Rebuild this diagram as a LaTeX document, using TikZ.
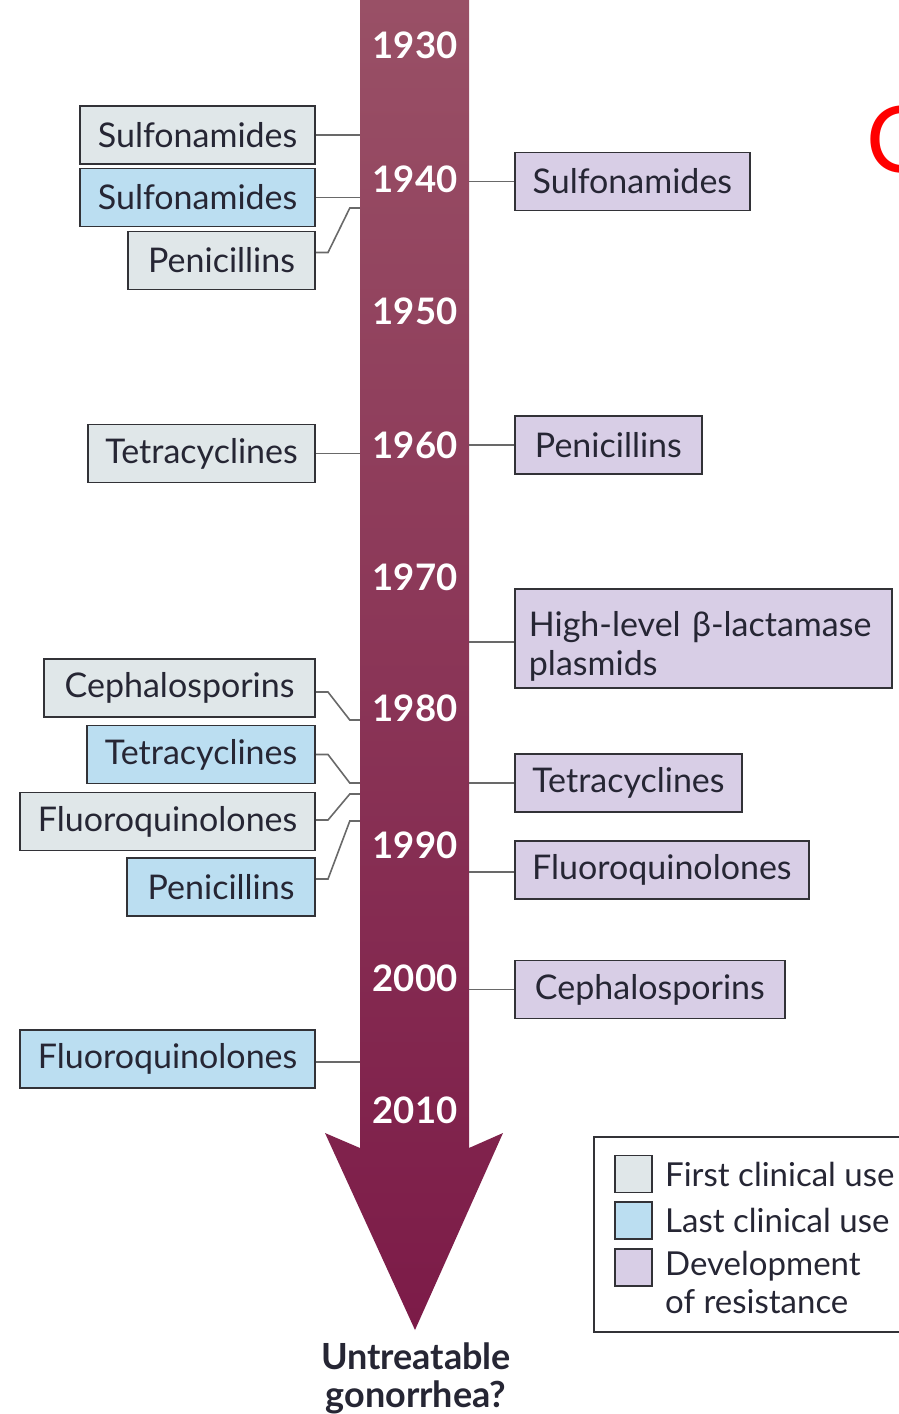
\documentclass[tikz,border=0pt]{standalone}
\usepackage{fontspec}
\setmainfont{Lato}
\usetikzlibrary{positioning}

\definecolor{firstfill}{RGB}{224,231,233}
\definecolor{lastfill}{RGB}{187,222,241}
\definecolor{resfill}{RGB}{216,206,230}
\definecolor{boxline}{RGB}{50,50,55}
\definecolor{conline}{RGB}{105,105,105}
\definecolor{txtdark}{RGB}{38,38,52}
\definecolor{arrtop}{RGB}{153,80,102}
\definecolor{arrbot}{RGB}{124,27,72}

\begin{document}
\begin{tikzpicture}[
  x=1pt, y=-1pt,
  box/.style={draw=boxline, line width=1.8pt, minimum height=58pt,
    inner xsep=14pt, inner ysep=0pt, text=txtdark,
    font=\fontsize{34}{39}\selectfont},
  firstuse/.style={box, fill=firstfill},
  lastuse/.style={box, fill=lastfill},
  resist/.style={box, fill=resfill},
  year/.style={text=white, font=\fontsize{36.5}{42}\selectfont\bfseries},
  conn/.style={draw=conline, line width=1.6pt},
  swatch/.style={draw=boxline, line width=1.8pt, minimum width=37pt,
    minimum height=37pt, inner sep=0pt},
  legtxt/.style={anchor=west, inner sep=0pt, text=txtdark, align=left,
    font=\fontsize{33}{38}\selectfont}
]
\useasboundingbox (0,0) rectangle (898,1414);

% timeline arrow
\shade[top color=arrtop, bottom color=arrbot]
  (360,0) -- (469,0) -- (469,1148) -- (503,1133) -- (415,1330)
  -- (325,1133) -- (360,1148) -- cycle;
\node[draw=none, inner sep=0pt, minimum width=109pt, minimum height=1148pt,
  anchor=north] (shaft) at (414.5,0) {};

\foreach \yr/\py in {1930/45,1940/179,1950/311,1960/445,1970/577,
    1980/708,1990/845,2000/978,2010/1110}
  \node[year] (y\yr) at (415,\py) {\yr};

% left side: first / last clinical use
\node[firstuse, minimum width=235pt, anchor=east] (fsulf) at (316,135) {Sulfonamides};
\node[lastuse, minimum width=235pt, anchor=east] (lsulf) at (316,197.5) {Sulfonamides};
\node[firstuse, minimum width=187pt, anchor=east] (fpen) at (316,260.5) {Penicillins};
\node[firstuse, minimum width=227pt, anchor=east] (ftet) at (316,453.5) {Tetracyclines};
\node[firstuse, minimum width=271pt, anchor=east] (fceph) at (316,688) {Cephalosporins};
\node[lastuse, minimum width=228pt, anchor=east] (ltet) at (316,754.5) {Tetracyclines};
\node[firstuse, minimum width=295pt, anchor=east] (ffluo) at (316,821.5) {Fluoroquinolones};
\node[lastuse, minimum width=188pt, anchor=east] (lpen) at (316,887) {Penicillins};
\node[lastuse, minimum width=295pt, anchor=east] (lfluo) at (316,1059) {Fluoroquinolones};

% right side: development of resistance
\node[resist, minimum width=377pt, minimum height=99pt, anchor=west,
  align=left, text width=349pt] (rbeta) at (514,638.5)
  {\rule{0pt}{41pt}High-level β-lactamase\\plasmids};
\node[resist, minimum width=235pt, anchor=west] (rsulf) at (514,181.5) {Sulfonamides};
\node[resist, minimum width=187pt, anchor=west] (rpen) at (514,445) {Penicillins};
\node[resist, minimum width=227pt, anchor=west] (rtet) at (514,783) {Tetracyclines};
\node[resist, minimum width=294pt, anchor=west] (rfluo) at (514,870) {Fluoroquinolones};
\node[resist, minimum width=270pt, anchor=west] (rceph) at (514,989.5) {Cephalosporins};

% attachment points on the shaft
\coordinate (apen) at (shaft.west |- 0,208);
\coordinate (aceph) at (shaft.west |- 0,720);
\coordinate (atet) at (shaft.west |- 0,783);
\coordinate (afluo) at (shaft.west |- 0,794);
\coordinate (alpen) at (shaft.west |- 0,821);

\draw[conn] (fsulf.east) -- (fsulf.east -| shaft.west);
\draw[conn] (lsulf.east) -- (lsulf.east -| shaft.west);
\draw[conn] ([yshift=8pt]fpen.east) -- ++(12,0) -- ([xshift=-10pt]apen) -- (apen);
\draw[conn] (ftet.east) -- (ftet.east -| shaft.west);
\draw[conn] ([yshift=-4pt]fceph.east) -- ++(12,0) -- ([xshift=-10pt]aceph) -- (aceph);
\draw[conn] (ltet.east) -- ++(12,0) -- ([xshift=-10pt]atet) -- (atet);
\draw[conn] ([yshift=1.5pt]ffluo.east) -- ++(12,0) -- ([xshift=-10pt]afluo) -- (afluo);
\draw[conn] ([yshift=8pt]lpen.east) -- ++(12,0) -- ([xshift=-10pt]alpen) -- (alpen);
\draw[conn] ([yshift=-3pt]lfluo.east) -- ([yshift=-3pt]lfluo.east -| shaft.west);

\draw[conn] (rsulf.west) -- (rsulf.west -| shaft.east);
\draw[conn] (rpen.west) -- (rpen.west -| shaft.east);
\draw[conn] ([yshift=-3.5pt]rbeta.west) -- ([yshift=-3.5pt]rbeta.west -| shaft.east);
\draw[conn] (rtet.west) -- (rtet.west -| shaft.east);
\draw[conn] ([yshift=-2pt]rfluo.west) -- ([yshift=-2pt]rfluo.west -| shaft.east);
\draw[conn] (rceph.west) -- (rceph.west -| shaft.east);

% end of the arrow
\node[align=center, text=txtdark, font=\fontsize{36}{38}\selectfont\bfseries]
  (untreat) at (416,1378) {Untreatable\\gonorrhea?};

% legend
\node[draw=boxline, line width=1.8pt, minimum width=325pt, minimum height=195pt,
  anchor=north west] (legend) at (593,1136) {};
\node[swatch, fill=firstfill] (swfirst) at (633.5,1174) {};
\node[swatch, fill=lastfill] (swlast) at (633.5,1220.5) {};
\node[swatch, fill=resfill] (swres) at (633.5,1267.5) {};
\node[legtxt] (lgfirst) at (665,1174) {First clinical use};
\node[legtxt] (lglast) at (665,1220) {Last clinical use};
\node[legtxt, anchor=north west] (lgres) at (665,1251) {Development\\of resistance};

% cut-off mark at the right edge
\node[text=red, inner sep=0pt, anchor=west, font=\fontsize{92}{92}\selectfont]
  (cmark) at (866,140) {C};
\end{tikzpicture}
\end{document}
